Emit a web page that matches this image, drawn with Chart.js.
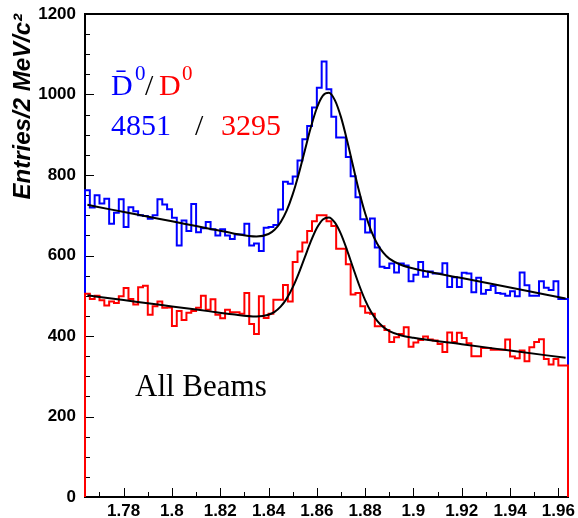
<!DOCTYPE html>
<html>
<head>
<meta charset="utf-8">
<script src="https://cdn.jsdelivr.net/npm/chart.js@4"></script>
<style>
  html, body { margin: 0; padding: 0; background: #fff; }
  canvas { display: block; }
</style>
</head>
<body>
<canvas id="mass-chart" width="578" height="518"></canvas>
<script>
// D0 / D0bar invariant mass, 2 MeV bins from 1.764 to 1.964 GeV/c2
var binLow = 1.764;
var binWidth = 0.002;

var massMajorTicks = [1.78, 1.80, 1.82, 1.84, 1.86, 1.88, 1.90, 1.92, 1.94, 1.96];
var massMinorTicks = [1.77, 1.79, 1.81, 1.83, 1.85, 1.87, 1.89, 1.91, 1.93, 1.95];

var d0barCounts = [
    719, 762, 719, 750, 729, 741, 679, 706, 740, 671,
    720, 710, 700, 698, 691, 700, 740, 727, 715, 694,
    625, 687, 661, 728, 658, 668, 683, 665, 650, 665,
    650, 641, 652, 652, 679, 625, 630, 611, 669, 671,
    676, 714, 783, 778, 796, 836, 889, 922, 968, 1017,
    1082, 1013, 945, 893, 893, 845, 797, 745, 690, 657,
    692, 620, 572, 569, 580, 558, 580, 575, 536, 552,
    584, 547, 560, 555, 555, 581, 522, 546, 522, 557,
    555, 509, 545, 505, 514, 524, 507, 505, 500, 511,
    499, 558, 526, 500, 500, 536, 520, 514, 536, 492
];

var d0Counts = [
    478, 505, 492, 500, 489, 476, 486, 482, 499, 519,
    492, 478, 521, 525, 453, 474, 486, 470, 471, 425,
    462, 440, 458, 462, 470, 500, 465, 491, 453, 444,
    465, 459, 459, 455, 507, 430, 405, 499, 445, 455,
    490, 490, 527, 486, 584, 610, 632, 661, 685, 700,
    700, 685, 673, 617, 617, 578, 503, 507, 474, 458,
    455, 424, 424, 415, 385, 397, 405, 422, 373, 384,
    390, 399, 391, 389, 380, 360, 409, 385, 408, 395,
    382, 350, 350, 370, 370, 366, 366, 366, 391, 349,
    345, 364, 337, 372, 385, 392, 343, 329, 343, 327
];

// fitted curves (gaussian + background)
var fitMass = [
    1.765, 1.775, 1.785, 1.795, 1.805, 1.815, 1.825, 1.835, 1.84, 1.8425,
    1.845, 1.8475, 1.85, 1.8525, 1.855, 1.8575, 1.86, 1.8625, 1.865, 1.8675,
    1.87, 1.8725, 1.875, 1.8775, 1.88, 1.8825, 1.885, 1.8875, 1.89, 1.895,
    1.90, 1.92, 1.94, 1.963
];
var d0barFit = [
    726, 714, 702.5, 690.8, 679, 667.3, 655.5, 647.4, 653.4, 663.8,
    682.4, 711.3, 751.8, 802.7, 860.5, 917.9, 966.5, 997.4, 1004.3, 985.4,
    943.7, 886.3, 822.2, 759.6, 705.0, 661.4, 629.3, 607.1, 592.3, 576.3,
    567.8, 543.9, 520.4, 493.4
];
var d0Fit = [
    501, 493.2, 485.3, 477.5, 469.6, 461.8, 454, 448.6, 452.8, 460.0,
    472.9, 492.8, 520.7, 555.7, 595.4, 635.0, 668.4, 689.7, 694.5, 681.5,
    653.0, 613.5, 569.6, 526.7, 489.2, 459.4, 437.3, 422.1, 412.1, 401.2,
    395.5, 379.5, 363.8, 345.8
];

var d0barYield = '4851';
var d0Yield = '3295';

var blue = 'rgb(0, 0, 255)';
var red = 'rgb(255, 0, 0)';
var sansFont = '"Liberation Sans", Arial, Helvetica, sans-serif';
var serifFont = '"Liberation Serif", "Times New Roman", serif';

function histogramPoints(counts) {
    var nBins = counts.length;
    var binHigh = binLow + nBins * binWidth;
    var points = [{x: binLow, y: 0}];

    counts.forEach(function (c, i) {
        points.push({x: binLow + i * binWidth, y: c});
    });
    points.push({x: binHigh, y: counts[nBins - 1]});
    points.push({x: binHigh, y: 0});

    return points;
}

function curvePoints(xs, ys) {
    return xs.map(function (x, i) {
        return {x: x, y: ys[i]};
    });
}

function isMajorX(v) {
    return massMajorTicks.some(function (m) {
        return Math.abs(m - v) < 1e-6;
    });
}

// frame and inward ticks, ROOT style, drawn under the histograms
var framePlugin = {
    id: 'frame',
    beforeDatasetsDraw: function (chart) {
        var ctx = chart.ctx;
        var area = chart.chartArea;
        var xScale = chart.scales.x;
        var yScale = chart.scales.y;

        ctx.save();
        ctx.strokeStyle = '#000';
        ctx.lineWidth = 1;
        ctx.beginPath();
        xScale.ticks.forEach(function (t) {
            var px = Math.round(xScale.getPixelForValue(t.value)) + 0.5;
            var len = isMajorX(t.value) ? 9 : 5;
            ctx.moveTo(px, area.bottom);
            ctx.lineTo(px, area.bottom - len);
        });
        yScale.ticks.forEach(function (t) {
            var py = Math.round(yScale.getPixelForValue(t.value)) + 0.5;
            var len = t.value % 200 === 0 ? 9 : 5;
            ctx.moveTo(area.left, py);
            ctx.lineTo(area.left + len, py);
        });
        ctx.stroke();

        ctx.lineWidth = 2;
        ctx.strokeRect(area.left, area.top, area.right - area.left, area.bottom - area.top);
        ctx.restore();
    }
};

var labelPlugin = {
    id: 'labels',
    afterDatasetsDraw: function (chart) {
        var ctx = chart.ctx;

        ctx.save();
        ctx.textBaseline = 'alphabetic';
        ctx.textAlign = 'left';

        ctx.font = '30px ' + serifFont;
        ctx.fillStyle = blue;
        ctx.fillText('D\u0304', 111, 95);
        ctx.fillStyle = '#000';
        ctx.fillText('/', 145, 95);
        ctx.fillStyle = red;
        ctx.fillText('D', 159, 95);

        ctx.font = '21px ' + serifFont;
        ctx.fillStyle = blue;
        ctx.fillText('0', 135, 80);
        ctx.fillStyle = red;
        ctx.fillText('0', 182, 80);

        ctx.font = '30px ' + serifFont;
        ctx.fillStyle = blue;
        ctx.fillText(d0barYield, 111, 135);
        ctx.fillStyle = '#000';
        ctx.fillText('/', 195, 135);
        ctx.fillStyle = red;
        ctx.fillText(d0Yield, 221, 135);

        ctx.font = '31px ' + serifFont;
        ctx.fillStyle = '#000';
        ctx.fillText('All Beams', 135, 396);
        ctx.restore();
    }
};

var lineStyle = {
    fill: false,
    pointRadius: 0,
    pointHoverRadius: 0,
    borderWidth: 2,
    clip: 4
};

new Chart(document.getElementById('mass-chart'), {
    type: 'line',
    plugins: [framePlugin, labelPlugin],
    data: {
        datasets: [
            Object.assign({
                label: 'D0bar fit',
                data: curvePoints(fitMass, d0barFit),
                borderColor: '#000',
                cubicInterpolationMode: 'monotone'
            }, lineStyle),
            Object.assign({
                label: 'D0 fit',
                data: curvePoints(fitMass, d0Fit),
                borderColor: '#000',
                cubicInterpolationMode: 'monotone'
            }, lineStyle),
            Object.assign({
                label: 'D0',
                data: histogramPoints(d0Counts),
                borderColor: red,
                stepped: 'after'
            }, lineStyle),
            Object.assign({
                label: 'D0bar',
                data: histogramPoints(d0barCounts),
                borderColor: blue,
                stepped: 'after'
            }, lineStyle)
        ]
    },
    options: {
        responsive: false,
        animation: false,
        devicePixelRatio: 1,
        layout: {padding: {top: 14, right: 10, bottom: 0, left: 0}},
        plugins: {
            legend: {display: false},
            tooltip: {enabled: false}
        },
        scales: {
            x: {
                type: 'linear',
                position: 'bottom',
                min: 1.764,
                max: 1.964,
                grid: {display: false, drawTicks: false},
                border: {display: false},
                afterBuildTicks: function (scale) {
                    scale.ticks = massMajorTicks.concat(massMinorTicks)
                        .sort(function (a, b) { return a - b; })
                        .map(function (v) { return {value: v}; });
                },
                ticks: {
                    autoSkip: false,
                    maxRotation: 0,
                    padding: 4,
                    color: '#000',
                    font: {family: sansFont, size: 17, weight: 'bold'},
                    callback: function (v) {
                        return isMajorX(v) ? String(+v.toFixed(2)) : '';
                    }
                },
                afterFit: function (scale) {
                    scale.height = 21;
                    scale.paddingLeft = 0;
                    scale.paddingRight = 0;
                }
            },
            y: {
                min: 0,
                max: 1200,
                grid: {display: false, drawTicks: false},
                border: {display: false},
                ticks: {
                    stepSize: 50,
                    autoSkip: false,
                    padding: 9,
                    color: '#000',
                    font: {family: sansFont, size: 17, weight: 'bold'},
                    callback: function (v) {
                        return v % 200 === 0 ? String(v) : '';
                    }
                },
                title: {
                    display: true,
                    text: 'Entries/2 MeV/c\u00b2',
                    align: 'end',
                    color: '#000',
                    padding: {top: 9, bottom: 0},
                    font: {family: sansFont, size: 24, weight: 'bold', style: 'italic'}
                },
                afterFit: function (scale) {
                    scale.width = 85;
                    scale.paddingTop = 0;
                    scale.paddingBottom = 0;
                }
            }
        }
    }
});
</script>
</body>
</html>
